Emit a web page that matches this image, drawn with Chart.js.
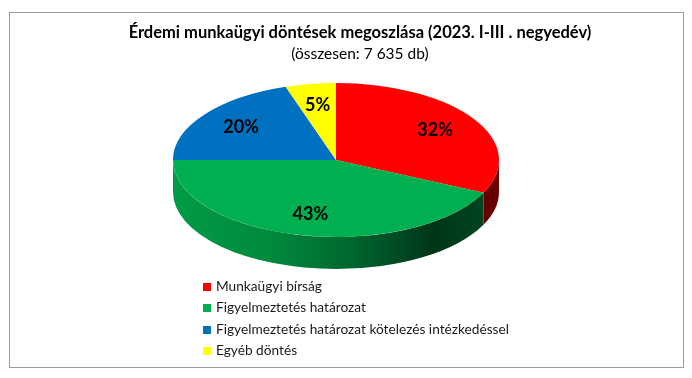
<!DOCTYPE html>
<html><head><meta charset="utf-8">
<script src="https://cdn.jsdelivr.net/npm/chart.js@4/dist/chart.umd.min.js"></script>
<style>
html,body{margin:0;padding:0;background:#fff;overflow:hidden;}
#wrap{position:relative;width:692px;height:378px;}
#frame{position:absolute;left:9px;top:12px;width:673px;height:354px;border:1px solid #9a9a9a;box-sizing:content-box;}
canvas{position:absolute;left:0;top:0;}
#title{position:absolute;left:0;width:720px;top:22px;text-align:center;font-family:Lato,sans-serif;color:#000;}
#title .t{font-weight:bold;font-size:16.5px;line-height:21px;}
#title .s{font-size:15.5px;line-height:21px;}
#legend{position:absolute;left:203px;top:275px;font-family:Lato,sans-serif;font-size:13.7px;color:#1a1a1a;}
#legend div{height:21.3px;line-height:21.3px;white-space:nowrap;}
#legend span.b{display:inline-block;width:8px;height:8px;margin-right:5px;vertical-align:0px;}
</style></head>
<body>
<div id="wrap">
<div id="frame"></div>
<canvas id="c" width="692" height="378"></canvas>
<div id="title"><div class="t" id="t1"></div><div class="s" id="t2"></div></div>
<div id="legend"></div>
</div>
<script>
const titleText = 'Érdemi munkaügyi döntések megoszlása (2023. I-III . negyedév)';
const subtitleText = '(összesen: 7 635 db)';
const categories = ['Munkaügyi bírság', 'Figyelmeztetés határozat', 'Figyelmeztetés határozat kötelezés intézkedéssel', 'Egyéb döntés'];
const shares = [32, 43, 20, 5];
const colors = ['#FF0000', '#00B050', '#0070C0', '#FFFF00'];

document.getElementById('t1').textContent = titleText;
document.getElementById('t2').textContent = subtitleText;
const lg = document.getElementById('legend');
categories.forEach((c, i) => {
  const d = document.createElement('div');
  const b = document.createElement('span'); b.className = 'b'; b.style.background = colors[i];
  d.appendChild(b); d.appendChild(document.createTextNode(c));
  lg.appendChild(d);
});

const TILT = 0.472;   // vertical squash of the pie (ry/rx)
const DEPTH = 32;     // thickness of the 3D side in px

function shade(hex, f) {
  const n = parseInt(hex.slice(1), 16);
  const r = Math.round(((n >> 16) & 255) * f), g = Math.round(((n >> 8) & 255) * f), b = Math.round((n & 255) * f);
  return `rgb(${r},${g},${b})`;
}

const pie3d = {
  id: 'pie3d',
  beforeDatasetsDraw(chart) {
    const ctx = chart.ctx;
    const arcs = chart.getDatasetMeta(0).data;
    if (!arcs.length) return;
    const cx = arcs[0].x, cy = arcs[0].y, rx = arcs[0].outerRadius, ry = rx * TILT;
    arcs.forEach((a, i) => {
      const lo = Math.max(a.startAngle, 0), hi = Math.min(a.endAngle, Math.PI);
      if (hi <= lo) return;
      const grad = ctx.createLinearGradient(cx - rx, 0, cx + rx, 0);
      const base = colors[i];
      grad.addColorStop(0, shade(base, 0.88));
      grad.addColorStop(0.3, shade(base, 0.78));
      grad.addColorStop(0.55, shade(base, 0.58));
      grad.addColorStop(0.8, shade(base, 0.3));
      grad.addColorStop(1, shade(base, 0.42));
      ctx.save();
      ctx.beginPath();
      ctx.ellipse(cx, cy, rx, ry, 0, lo, hi, false);
      ctx.lineTo(cx + rx * Math.cos(hi), cy + ry * Math.sin(hi) + DEPTH);
      ctx.ellipse(cx, cy + DEPTH, rx, ry, 0, hi, lo, true);
      ctx.closePath();
      ctx.fillStyle = grad;
      ctx.fill();
      ctx.restore();
    });
    ctx.save();
    ctx.translate(0, cy);
    ctx.scale(1, TILT);
    ctx.translate(0, -cy);
  },
  afterDatasetsDraw(chart) {
    const ctx = chart.ctx;
    ctx.restore();
    const arcs = chart.getDatasetMeta(0).data;
    const ds = chart.data.datasets[0].data;
    ctx.save();
    ctx.font = 'bold 18px Lato, sans-serif';
    ctx.fillStyle = '#000';
    ctx.textAlign = 'center';
    ctx.textBaseline = 'middle';
    arcs.forEach((a, i) => {
      const mid = (a.startAngle + a.endAngle) / 2;
      const r = a.outerRadius * 0.72;
      const x = a.x + r * Math.cos(mid);
      const y = a.y + r * Math.sin(mid) * TILT;
      ctx.fillText(ds[i] + '%', x, y);
    });
    ctx.restore();
  }
};

new Chart(document.getElementById('c'), {
  type: 'pie',
  data: {
    labels: categories,
    datasets: [{ data: shares, backgroundColor: colors, borderWidth: 0, radius: 163, clip: false }]
  },
  options: {
    responsive: false,
    animation: false,
    events: [],
    layout: { padding: { top: 70, bottom: 128, left: 0, right: 20 } },
    plugins: { legend: { display: false }, title: { display: false }, tooltip: { enabled: false } }
  },
  plugins: [pie3d]
});
</script>
</body></html>
